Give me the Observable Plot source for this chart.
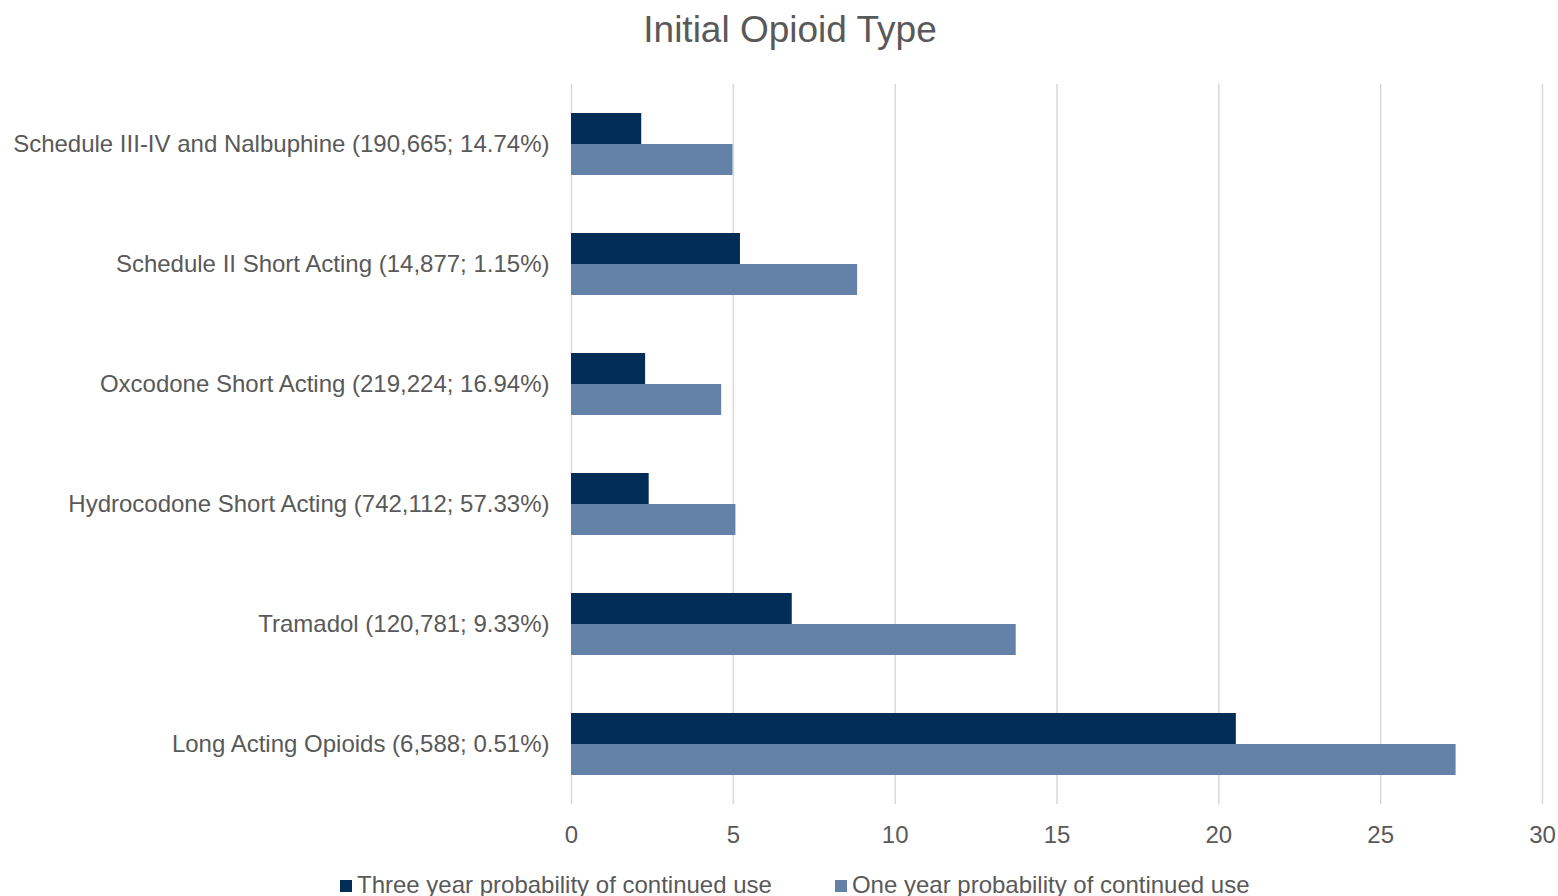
<!DOCTYPE html>
<html>
<head>
<meta charset="utf-8">
<script src="https://cdn.jsdelivr.net/npm/d3@7"></script>
<script src="https://cdn.jsdelivr.net/npm/@observablehq/plot@0.6"></script>
<style>
  html, body { margin: 0; padding: 0; background: #fff; overflow: hidden; }
  body { width: 1558px; height: 896px; position: relative; font-family: "Liberation Sans", Arial, sans-serif; color: #595959; }
  #title { position: absolute; top: 8px; left: 790px; transform: translateX(-50%); font-size: 37px; white-space: nowrap; line-height: 44px; }
  #chart { position: absolute; top: 60px; left: 0; }
  #legend { position: absolute; top: 873px; left: 340px; display: flex; gap: 63px; font-size: 24px; line-height: 24px; white-space: nowrap; }
  #legend .item { display: flex; align-items: center; }
  #legend .swatch { width: 12px; height: 12px; margin-right: 5px; margin-top: 2px; }
</style>
</head>
<body>
<div id="title">Initial Opioid Type</div>
<div id="chart"></div>
<div id="legend"></div>
<script>
// Opioid categories, top to bottom (count; share of initial prescriptions)
const categories = [
  "Schedule III-IV and Nalbuphine (190,665; 14.74%)",
  "Schedule II Short Acting (14,877; 1.15%)",
  "Oxcodone Short Acting (219,224; 16.94%)",
  "Hydrocodone Short Acting (742,112; 57.33%)",
  "Tramadol (120,781; 9.33%)",
  "Long Acting Opioids (6,588; 0.51%)"
];

const seriesNames = [
  "Three year probability of continued use",
  "One year probability of continued use"
];

// Probability of continued use (%), one value per category
const threeYear = [2.17, 5.22, 2.29, 2.40, 6.82, 20.54];
const oneYear = [4.99, 8.84, 4.64, 5.08, 13.74, 27.33];

const xTicks = [0, 5, 10, 15, 20, 25, 30];
const colors = ["#022D56", "#6482A7"];

const rows = categories.flatMap((category, i) => [
  {category, series: seriesNames[0], value: threeYear[i]},
  {category, series: seriesNames[1], value: oneYear[i]}
]);

const chart = Plot.plot({
  width: 1558,
  height: 800,
  marginLeft: 571,
  marginRight: 16,
  marginTop: 23,
  marginBottom: 55,
  style: {
    fontFamily: '"Liberation Sans", Arial, sans-serif',
    fontSize: "24px",
    color: "#595959",
    background: "white",
    overflow: "visible"
  },
  x: {domain: [0, 30], ticks: xTicks, tickSize: 0, tickPadding: 21, label: null},
  fy: {domain: categories, paddingInner: 0, paddingOuter: 0, axis: "left", tickSize: 0, tickPadding: 22, label: null},
  y: {domain: seriesNames, paddingInner: 0, paddingOuter: 0.93, axis: null},
  color: {domain: seriesNames, range: colors},
  marks: [
    Plot.ruleX(xTicks, {stroke: "#D9D9D9", strokeWidth: 1.5}),
    Plot.barX(rows, {x: "value", y: "series", fy: "category", fill: "series"})
  ]
});
document.getElementById("chart").appendChild(chart);

// Legend below the chart
const legend = d3.select("#legend");
seriesNames.forEach((name, i) => {
  const item = legend.append("div").attr("class", "item");
  item.append("div").attr("class", "swatch").style("background", colors[i]);
  item.append("span").text(name);
});
</script>
</body>
</html>
